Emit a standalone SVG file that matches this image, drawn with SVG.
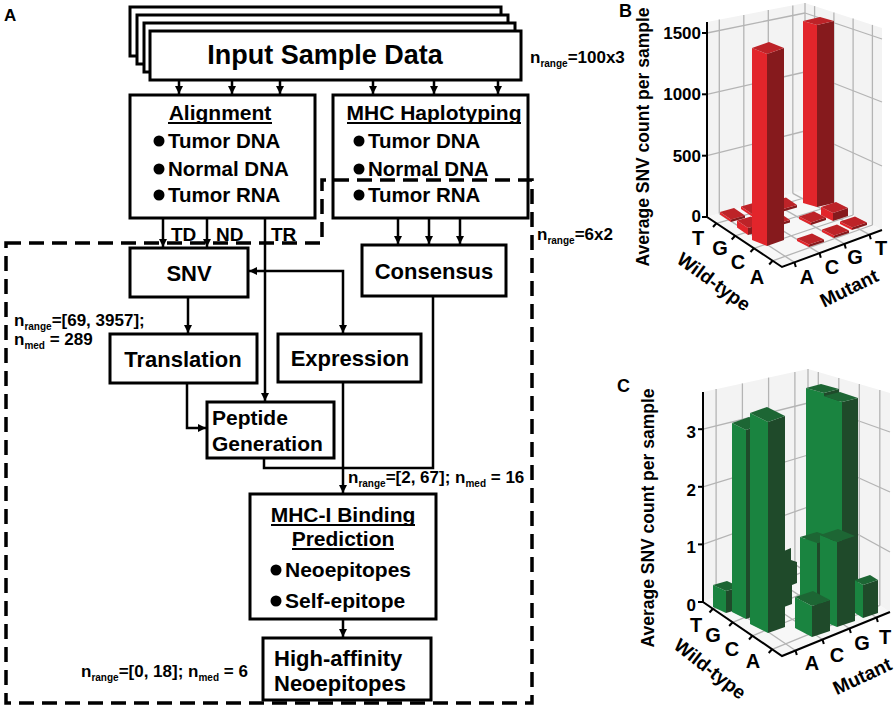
<svg xmlns="http://www.w3.org/2000/svg" width="895" height="708" viewBox="0 0 895 708">
<style>
.t{font-family:"Liberation Sans",Arial,sans-serif;font-weight:bold;fill:#000}
.box{fill:#fff;stroke:#000;stroke-width:3}
.ln{fill:none;stroke:#000;stroke-width:2.5}
.ul{stroke:#000;stroke-width:1.8}
.dash{fill:none;stroke:#000;stroke-width:3.5;stroke-dasharray:15 8}
.wall{fill:#f3f3f3}
.floor{fill:#f7f7f7}
.grid{stroke:#b4b4b4;stroke-width:1.3;fill:none}
.ax{stroke:#000;stroke-width:2;fill:none}
.rl{fill:#e2252b}.rd{fill:#861a1d}.rt{fill:#bd2328}
.gl{fill:#1a8440}.gd{fill:#1f4a2a}.gt{fill:#1d6634}
</style>
<defs>
<marker id="ah" viewBox="0 0 10 10" refX="10" refY="5" markerWidth="8" markerHeight="8" markerUnits="userSpaceOnUse" orient="auto-start-reverse"><path d="M0,0 L10,5 L0,10 z" fill="#000"/></marker>
<g id="tileL"><polygon class="rl" points="0,-2.5 11,5 11,7.5 0,0"/><polygon class="rd" points="11,5 25,1 25,3.5 11,7.5"/><polygon class="rt" points="0,-2.5 11,5 25,1 14,-6.5"/></g>
<g id="tileR"><polygon class="rl" points="0,-2.5 12,3.5 12,6 0,0"/><polygon class="rd" points="12,3.5 27,-1.5 27,1 12,6"/><polygon class="rt" points="0,-2.5 12,3.5 27,-1.5 15,-7.5"/></g>
</defs>
<rect width="895" height="708" fill="#fff"/>

<text class="t" x="4" y="21" font-size="17">A</text>

<g id="input">
<rect class="box" x="130" y="7" width="371" height="49"/>
<rect class="box" x="137" y="15" width="371" height="49"/>
<rect class="box" x="144" y="23" width="371" height="49"/>
<rect class="box" x="150" y="31" width="371" height="49"/>
<text class="t" x="325" y="64" font-size="27" text-anchor="middle">Input Sample Data</text>
</g>
<text class="t" x="530" y="63" font-size="17">n<tspan font-size="10" dy="4">range</tspan><tspan dy="-4">=100x3</tspan></text>

<g id="alignment">
<rect class="box" x="130" y="95" width="185" height="123"/>
<text class="t" x="220" y="120" font-size="21" text-anchor="middle">Alignment</text>
<line class="ul" x1="168" y1="123" x2="272" y2="123"/>
<circle cx="159" cy="141" r="5.5"/><text class="t" x="168" y="148" font-size="20.5">Tumor DNA</text>
<circle cx="159" cy="169" r="5.5"/><text class="t" x="168" y="176" font-size="20.5">Normal DNA</text>
<circle cx="159" cy="195" r="5.5"/><text class="t" x="168" y="202" font-size="20.5">Tumor RNA</text>
</g>

<g id="mhc-haplotyping">
<rect class="box" x="333" y="95" width="195" height="123"/>
<text class="t" x="434" y="120" font-size="21" text-anchor="middle">MHC Haplotyping</text>
<line class="ul" x1="347" y1="123" x2="521" y2="123"/>
<circle cx="359" cy="141" r="5.5"/><text class="t" x="368" y="148" font-size="20.5">Tumor DNA</text>
<circle cx="359" cy="169" r="5.5"/><text class="t" x="368" y="176" font-size="20.5">Normal DNA</text>
<circle cx="359" cy="195" r="5.5"/><text class="t" x="368" y="202" font-size="20.5">Tumor RNA</text>
</g>

<path class="dash" d="M6,243 H322 V180 H532 V703 H6 Z"/>
<text class="t" x="537" y="240" font-size="17">n<tspan font-size="10" dy="4">range</tspan><tspan dy="-4">=6x2</tspan></text>

<g id="snv">
<rect class="box" x="130" y="248" width="118" height="49"/>
<text class="t" x="189" y="281" font-size="22" text-anchor="middle">SNV</text>
</g>
<g id="consensus">
<rect class="box" x="362" y="245" width="144" height="51"/>
<text class="t" x="434" y="279" font-size="22" text-anchor="middle">Consensus</text>
</g>
<g id="translation">
<rect class="box" x="110" y="334" width="147" height="49"/>
<text class="t" x="183" y="367" font-size="22" text-anchor="middle">Translation</text>
</g>
<g id="expression">
<rect class="box" x="278" y="334" width="143" height="48"/>
<text class="t" x="350" y="366" font-size="22" text-anchor="middle">Expression</text>
</g>
<g id="peptide-generation">
<rect class="box" x="207" y="402" width="127" height="56"/>
<text class="t" x="212" y="425" font-size="21">Peptide</text>
<text class="t" x="212" y="451" font-size="21">Generation</text>
</g>
<g id="mhc-binding">
<rect class="box" x="250" y="494" width="186" height="125"/>
<text class="t" x="343" y="522" font-size="21" text-anchor="middle">MHC-I Binding</text>
<line class="ul" x1="271" y1="525" x2="415" y2="525"/>
<text class="t" x="343" y="546" font-size="21" text-anchor="middle">Prediction</text>
<line class="ul" x1="292" y1="549" x2="394" y2="549"/>
<circle cx="276" cy="570" r="5.5"/><text class="t" x="285" y="577" font-size="21">Neoepitopes</text>
<circle cx="276" cy="601" r="5.5"/><text class="t" x="285" y="608" font-size="21">Self-epitope</text>
</g>
<g id="high-affinity">
<rect class="box" x="263" y="638" width="168" height="62"/>
<text class="t" x="274" y="666" font-size="22">High-affinity</text>
<text class="t" x="274" y="691" font-size="22">Neoepitopes</text>
</g>

<g id="labels">
<text class="t" x="171" y="241" font-size="19">TD</text>
<text class="t" x="216" y="241" font-size="19">ND</text>
<text class="t" x="271" y="241" font-size="19">TR</text>
<text class="t" x="14" y="326" font-size="17">n<tspan font-size="10" dy="4">range</tspan><tspan dy="-4">=[69, 3957];</tspan></text>
<text class="t" x="14" y="345" font-size="17">n<tspan font-size="10" dy="4">med</tspan><tspan dy="-4"> = 289</tspan></text>
<text class="t" x="348" y="483" font-size="17">n<tspan font-size="10" dy="4">range</tspan><tspan dy="-4">=[2, 67]; n</tspan><tspan font-size="10" dy="4">med</tspan><tspan dy="-4"> = 16</tspan></text>
<text class="t" x="81" y="677" font-size="17">n<tspan font-size="10" dy="4">range</tspan><tspan dy="-4">=[0, 18]; n</tspan><tspan font-size="10" dy="4">med</tspan><tspan dy="-4"> = 6</tspan></text>
</g>

<g id="connectors" class="ln">
<line x1="179" y1="80" x2="179" y2="94" marker-end="url(#ah)"/>
<line x1="232" y1="80" x2="232" y2="94" marker-end="url(#ah)"/>
<line x1="280" y1="80" x2="280" y2="94" marker-end="url(#ah)"/>
<line x1="373" y1="80" x2="373" y2="94" marker-end="url(#ah)"/>
<line x1="434" y1="80" x2="434" y2="94" marker-end="url(#ah)"/>
<line x1="498" y1="80" x2="498" y2="94" marker-end="url(#ah)"/>
<line x1="163" y1="218" x2="163" y2="247" marker-end="url(#ah)"/>
<line x1="207" y1="218" x2="207" y2="247" marker-end="url(#ah)"/>
<line x1="265" y1="218" x2="265" y2="401" marker-end="url(#ah)"/>
<line x1="398" y1="218" x2="398" y2="244" marker-end="url(#ah)"/>
<line x1="429" y1="218" x2="429" y2="244" marker-end="url(#ah)"/>
<line x1="460" y1="218" x2="460" y2="244" marker-end="url(#ah)"/>
<path d="M249,271 H343 V333" marker-start="url(#ah)" marker-end="url(#ah)"/>
<line x1="188" y1="297" x2="188" y2="333" marker-end="url(#ah)"/>
<path d="M187,383 V428 H206" marker-end="url(#ah)"/>
<path d="M264,458 V468 H433 V296"/>
<line x1="343" y1="382" x2="343" y2="493" marker-end="url(#ah)"/>
<line x1="343" y1="619" x2="343" y2="637" marker-end="url(#ah)"/>
</g>

<g id="chart-b">
<text class="t" x="619" y="17" font-size="18">B</text>
<polygon class="wall" points="707,22 805,3 805,190 707,217"/>
<polygon class="wall" points="805,3 882,28 882,230 805,190"/>
<polygon class="floor" points="707,217 805,190 882,230 782,267"/>
<g class="grid">
<line x1="707" y1="155.7" x2="805" y2="131"/><line x1="707" y1="94.3" x2="805" y2="72"/><line x1="707" y1="33" x2="805" y2="13"/>
<line x1="805" y1="131" x2="882" y2="166"/><line x1="805" y1="72" x2="882" y2="102"/><line x1="805" y1="13" x2="882" y2="39"/>
<line x1="719.3" y1="19.6" x2="719.3" y2="213.6"/><line x1="743.8" y1="14.9" x2="743.8" y2="206.9"/><line x1="768.3" y1="10.1" x2="768.3" y2="200.1"/><line x1="792.8" y1="5.4" x2="792.8" y2="193.4"/>
<line x1="814.6" y1="6.1" x2="814.6" y2="195"/><line x1="833.9" y1="12.4" x2="833.9" y2="205"/><line x1="853.1" y1="18.6" x2="853.1" y2="215"/><line x1="872.4" y1="24.9" x2="872.4" y2="225"/>
<line x1="805" y1="3" x2="805" y2="190"/>
<line x1="719.3" y1="213.6" x2="794.5" y2="262.4"/><line x1="743.8" y1="206.9" x2="819.5" y2="253.1"/><line x1="768.3" y1="200.1" x2="844.5" y2="243.9"/><line x1="792.8" y1="193.4" x2="869.5" y2="234.6"/>
<line x1="716.4" y1="223.3" x2="814.6" y2="195"/><line x1="735.1" y1="235.8" x2="833.9" y2="205"/><line x1="753.9" y1="248.3" x2="853.1" y2="215"/><line x1="772.6" y1="260.8" x2="872.4" y2="225"/>
</g>
<use href="#tileL" x="741" y="209"/>
<use href="#tileL" x="772" y="204"/>
<g transform="translate(803,203)"><polygon class="rl" points="0,-182 14,-178 14,4 0,0"/><polygon class="rd" points="14,-178 31,-182 31,0 14,4"/><polygon class="rt" points="0,-182 14,-178 31,-182 17,-186"/></g>
<use href="#tileL" x="720" y="214.5"/>
<g transform="translate(821,215)"><polygon class="rl" points="0,-8 12,-2 12,6 0,0"/><polygon class="rd" points="12,-2 27,-7 27,1 12,6"/><polygon class="rt" points="0,-8 12,-2 27,-7 15,-13"/></g>
<use href="#tileR" x="799" y="219"/>
<use href="#tileR" x="840" y="224"/>
<use href="#tileL" x="765" y="219"/>
<g transform="translate(737,227.5)"><polygon class="rl" points="0,-7 11,0.5 11,7.5 0,0"/><polygon class="rd" points="11,0.5 25,-3.5 25,3.5 11,7.5"/><polygon class="rt" points="0,-7 11,0.5 25,-3.5 14,-11"/></g>
<use href="#tileR" x="822" y="232"/>
<use href="#tileR" x="797" y="241"/>
<g transform="translate(752,240)"><polygon class="rl" points="0,-192 15,-186 15,6 0,0"/><polygon class="rd" points="15,-186 32,-192 32,0 15,6"/><polygon class="rt" points="0,-192 15,-186 32,-192 17,-198"/></g>
<g class="ax">
<polyline points="707,22 707,217 782,267 882,230"/>
<line x1="702" y1="33" x2="707" y2="33"/><line x1="702" y1="94.3" x2="707" y2="94.3"/><line x1="702" y1="155.7" x2="707" y2="155.7"/><line x1="702" y1="217" x2="707" y2="217"/>
<line x1="716.4" y1="223.3" x2="713" y2="227"/><line x1="735.1" y1="235.8" x2="731.7" y2="239.5"/><line x1="753.9" y1="248.3" x2="750.5" y2="252"/><line x1="772.6" y1="260.8" x2="769.2" y2="264.5"/>
<line x1="794.5" y1="262.4" x2="795.8" y2="267"/><line x1="819.5" y1="253.1" x2="820.8" y2="257.7"/><line x1="844.5" y1="243.9" x2="845.8" y2="248.5"/><line x1="869.5" y1="234.6" x2="870.8" y2="239.2"/>
</g>
<g font-size="17" text-anchor="end">
<text class="t" x="701" y="39">1500</text><text class="t" x="701" y="100">1000</text><text class="t" x="701" y="162">500</text><text class="t" x="701" y="222">0</text>
</g>
<text class="t" font-size="17.5" text-anchor="middle" transform="translate(649,137) rotate(-90)">Average SNV count per sample</text>
<g font-size="20" text-anchor="middle">
<text class="t" x="698" y="245">T</text><text class="t" x="720" y="255">G</text><text class="t" x="738" y="269">C</text><text class="t" x="757" y="284">A</text>
<text class="t" x="807" y="284">A</text><text class="t" x="832" y="274">C</text><text class="t" x="855" y="264">G</text><text class="t" x="881" y="255">T</text>
</g>
<text class="t" font-size="19" text-anchor="middle" transform="translate(710,287) rotate(36)">Wild-type</text>
<text class="t" font-size="19" text-anchor="middle" transform="translate(852,294) rotate(-26)">Mutant</text>
</g>

<g id="chart-c">
<text class="t" x="617" y="392" font-size="18">C</text>
<polygon class="wall" points="703,392 808,369 808,559 703,602"/>
<polygon class="wall" points="808,369 890,393 890,612 808,559"/>
<polygon class="floor" points="703,602 808,559 890,612 782,656"/>
<g class="grid">
<line x1="703" y1="544.4" x2="808" y2="507"/><line x1="703" y1="486.8" x2="808" y2="455"/><line x1="703" y1="429.2" x2="808" y2="403"/>
<line x1="808" y1="507" x2="890" y2="552"/><line x1="808" y1="455" x2="890" y2="492"/><line x1="808" y1="403" x2="890" y2="432"/>
<line x1="716.1" y1="389.1" x2="716.1" y2="596.6"/><line x1="742.4" y1="383.4" x2="742.4" y2="585.9"/><line x1="768.6" y1="377.6" x2="768.6" y2="575.1"/><line x1="794.9" y1="371.9" x2="794.9" y2="564.4"/>
<line x1="818.3" y1="372" x2="818.3" y2="565.6"/><line x1="838.8" y1="378" x2="838.8" y2="578.9"/><line x1="859.3" y1="384" x2="859.3" y2="592.1"/><line x1="879.8" y1="390" x2="879.8" y2="605.4"/>
<line x1="808" y1="369" x2="808" y2="559"/>
<line x1="716.1" y1="596.6" x2="795.5" y2="650.5"/><line x1="742.4" y1="585.9" x2="822.5" y2="639.5"/><line x1="768.6" y1="575.1" x2="849.5" y2="628.5"/><line x1="794.9" y1="564.4" x2="876.5" y2="617.5"/>
<line x1="712.9" y1="608.8" x2="818.3" y2="565.6"/><line x1="732.6" y1="622.3" x2="838.8" y2="578.9"/><line x1="752.4" y1="635.8" x2="859.3" y2="592.1"/><line x1="772.1" y1="649.3" x2="879.8" y2="605.4"/>
</g>
<g transform="translate(806,592)"><polygon class="gl" points="0,-204 18,-199 18,5 0,0"/><polygon class="gd" points="18,-199 33,-203 33,1 18,5"/><polygon class="gt" points="0,-204 18,-199 33,-203 15,-208"/></g>
<g transform="translate(824,600)"><polygon class="gl" points="0,-204 18,-198 18,6 0,0"/><polygon class="gd" points="18,-198 34,-202 34,2 18,6"/><polygon class="gt" points="0,-204 18,-198 34,-202 16,-208"/></g>
<g transform="translate(713,607)"><polygon class="gl" points="0,-22 13,-16 13,6 0,0"/><polygon class="gd" points="13,-16 27,-20 27,2 13,6"/><polygon class="gt" points="0,-22 13,-16 27,-20 14,-26"/></g>
<g transform="translate(732,612)"><polygon class="gl" points="0,-189 14,-182 14,7 0,0"/><polygon class="gd" points="14,-182 31,-188 31,1 14,7"/><polygon class="gt" points="0,-189 14,-182 31,-188 17,-195"/></g>
<polygon class="gd" points="784,551 791,548 791,560 797,562 797,583 792,585 792,604 784,607"/>
<g transform="translate(750,624)"><polygon class="gl" points="0,-211 18,-202 18,9 0,0"/><polygon class="gd" points="18,-202 35,-208 35,3 18,9"/><polygon class="gt" points="0,-211 18,-202 35,-208 17,-217"/></g>
<g transform="translate(855,613)"><polygon class="gl" points="0,-33 8,-28 8,5 0,0"/><polygon class="gd" points="8,-28 23,-33 23,0 8,5"/><polygon class="gt" points="0,-33 8,-28 23,-33 15,-38"/></g>
<g transform="translate(800,600)"><polygon class="gl" points="0,-63 17,-57 17,6 0,0"/><polygon class="gd" points="17,-57 34,-62 34,1 17,6"/><polygon class="gt" points="0,-63 17,-57 34,-62 17,-68"/></g>
<g transform="translate(820,620)"><polygon class="gl" points="0,-85 17,-78 17,7 0,0"/><polygon class="gd" points="17,-78 35,-84 35,1 17,7"/><polygon class="gt" points="0,-85 17,-78 35,-84 18,-91"/></g>
<g transform="translate(795,628)"><polygon class="gl" points="0,-31 17,-22 17,9 0,0"/><polygon class="gd" points="17,-22 35,-28 35,3 17,9"/><polygon class="gt" points="0,-31 17,-22 35,-28 18,-37"/></g>
<g class="ax">
<polyline points="703,392 703,602 782,656 890,612"/>
<line x1="698" y1="429.2" x2="703" y2="429.2"/><line x1="698" y1="486.8" x2="703" y2="486.8"/><line x1="698" y1="544.4" x2="703" y2="544.4"/><line x1="698" y1="602" x2="703" y2="602"/>
<line x1="712.9" y1="608.8" x2="709.5" y2="612.5"/><line x1="732.6" y1="622.3" x2="729.2" y2="626"/><line x1="752.4" y1="635.8" x2="749" y2="639.5"/><line x1="772.1" y1="649.3" x2="768.7" y2="653"/>
<line x1="795.5" y1="650.5" x2="796.8" y2="655.1"/><line x1="822.5" y1="639.5" x2="823.8" y2="644.1"/><line x1="849.5" y1="628.5" x2="850.8" y2="633.1"/><line x1="876.5" y1="617.5" x2="877.8" y2="622.1"/>
</g>
<g font-size="17" text-anchor="end">
<text class="t" x="696" y="438">3</text><text class="t" x="696" y="496">2</text><text class="t" x="696" y="553">1</text><text class="t" x="696" y="611">0</text>
</g>
<text class="t" font-size="17.5" text-anchor="middle" transform="translate(654,518) rotate(-90)">Average SNV count per sample</text>
<g font-size="20" text-anchor="middle">
<text class="t" x="696" y="632">T</text><text class="t" x="713" y="642">G</text><text class="t" x="732" y="656">C</text><text class="t" x="753" y="668">A</text>
<text class="t" x="812" y="670">A</text><text class="t" x="837" y="662">C</text><text class="t" x="862" y="650">G</text><text class="t" x="885" y="644">T</text>
</g>
<text class="t" font-size="19" text-anchor="middle" transform="translate(706,674) rotate(38)">Wild-type</text>
<text class="t" font-size="19" text-anchor="middle" transform="translate(865,682) rotate(-25)">Mutant</text>
</g>
</svg>
